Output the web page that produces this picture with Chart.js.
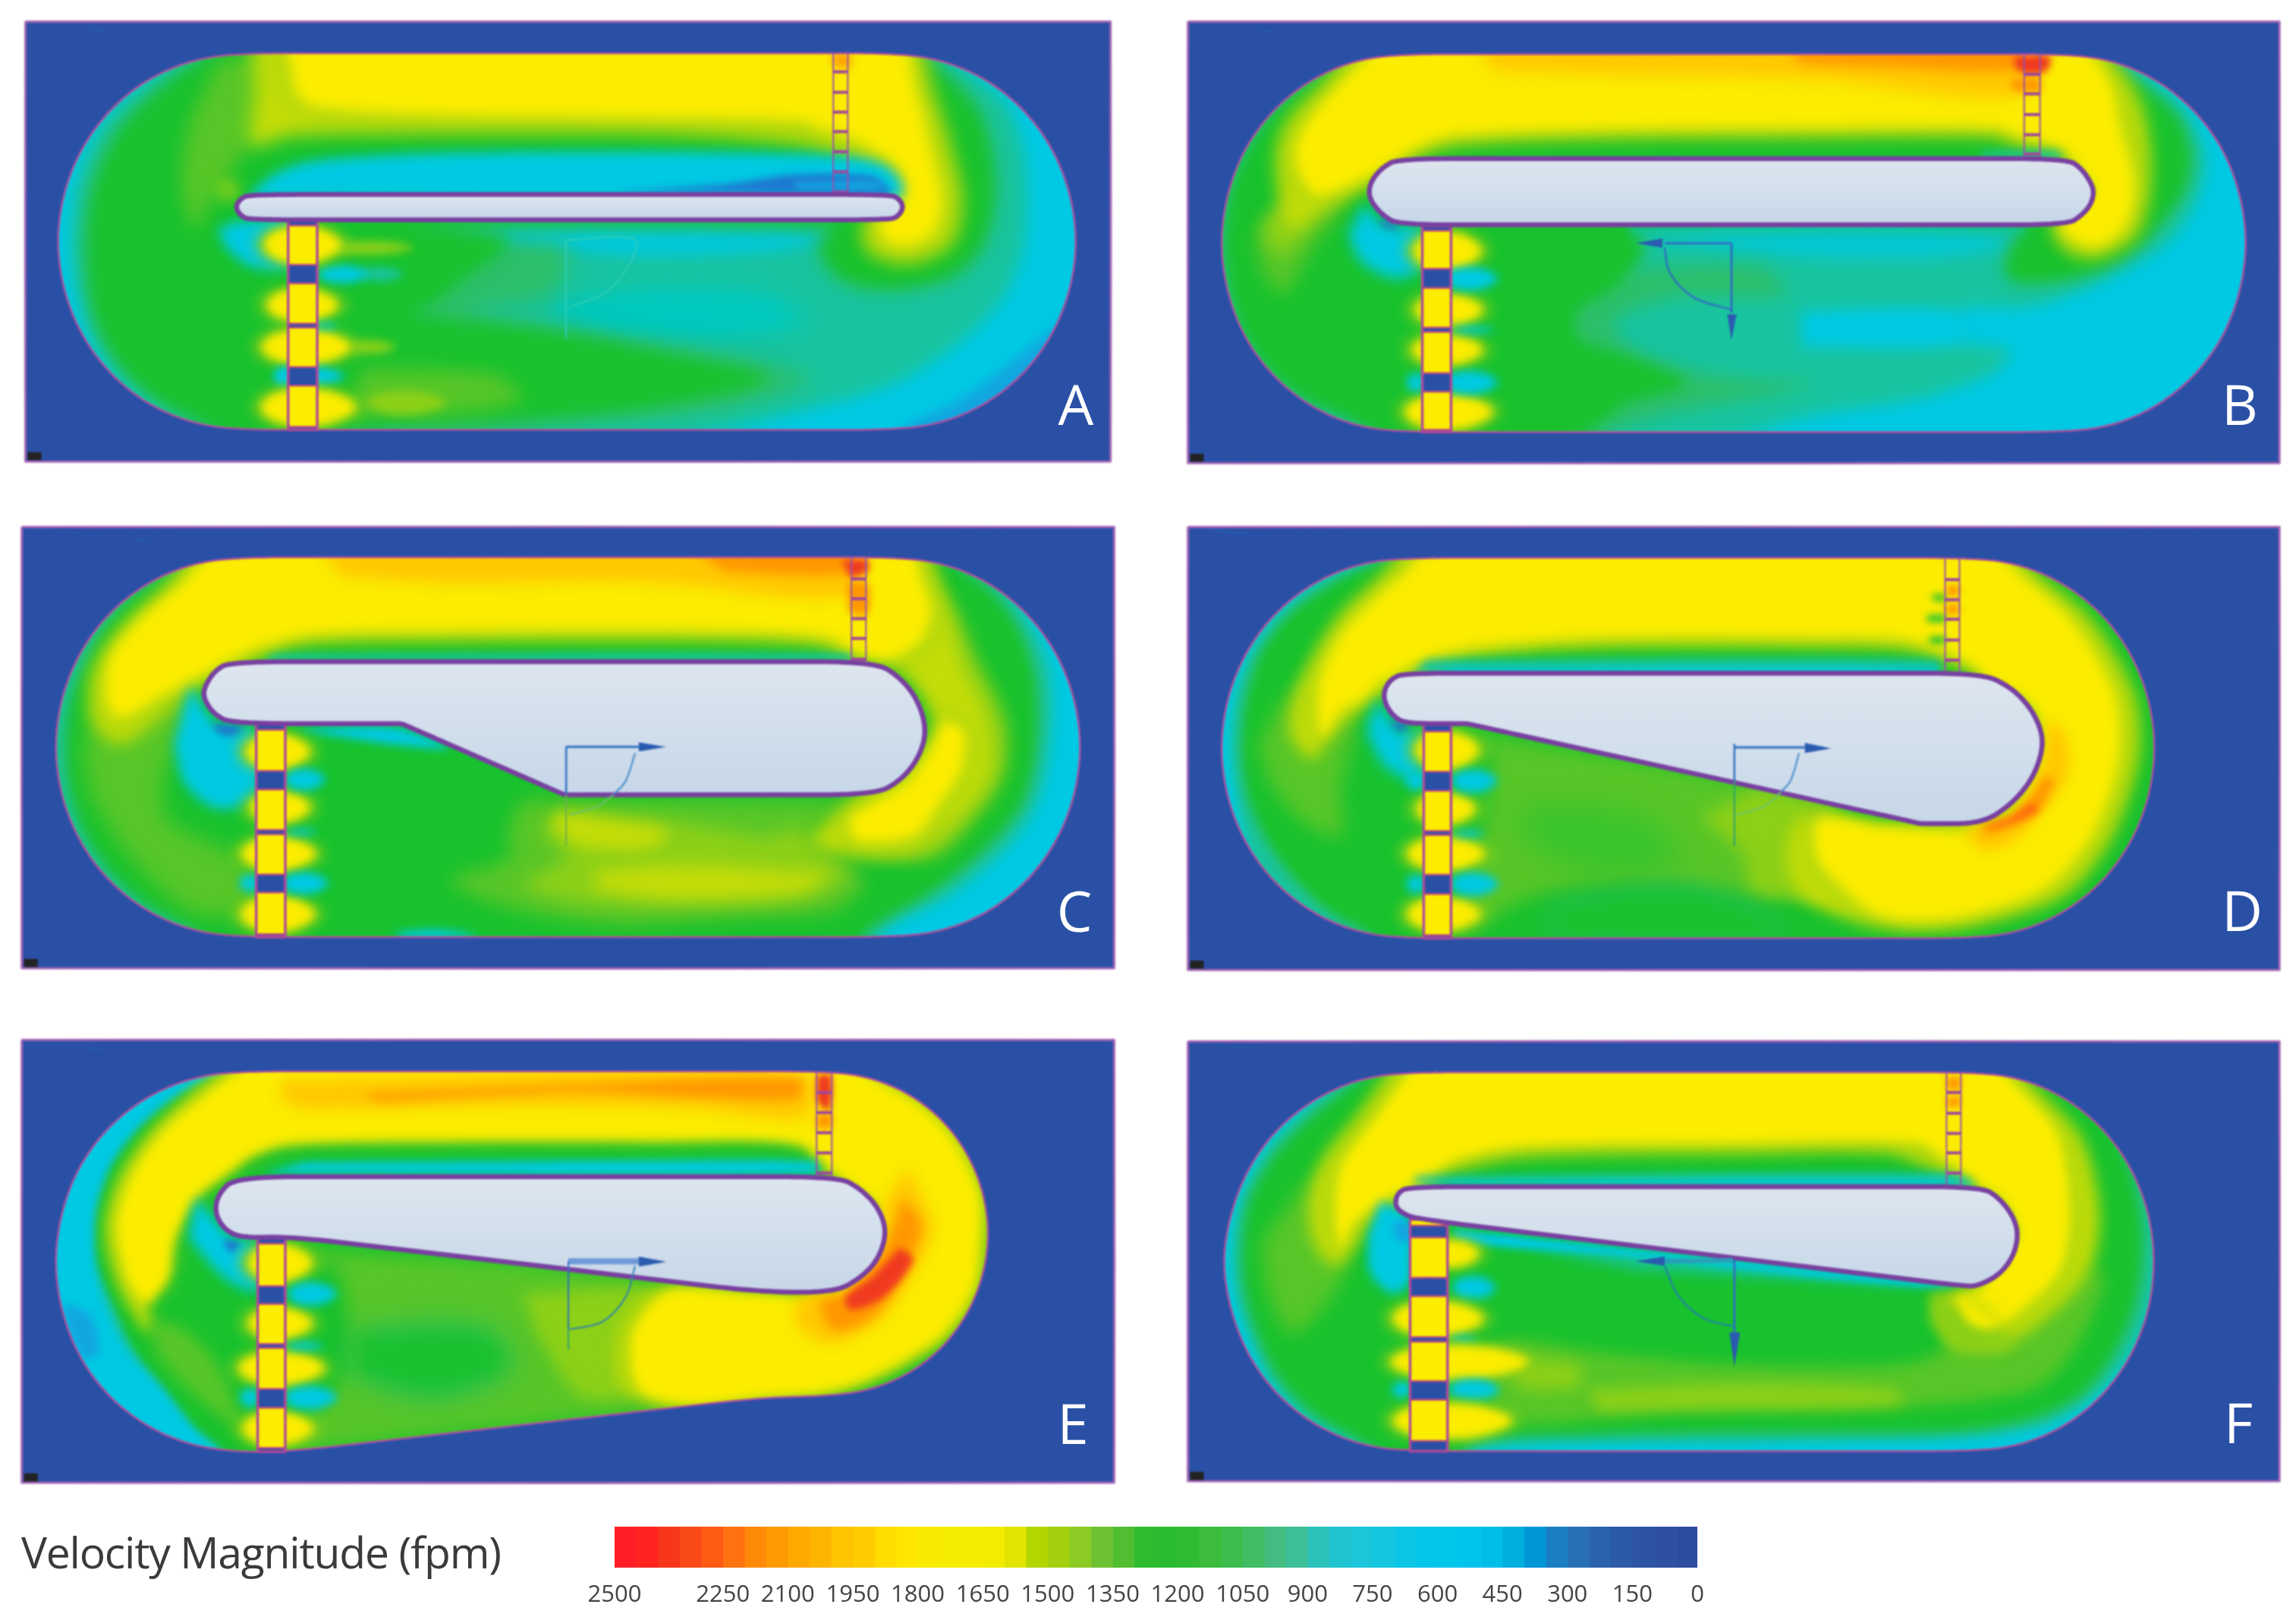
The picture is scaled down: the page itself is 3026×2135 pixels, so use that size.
<!DOCTYPE html>
<html><head><meta charset="utf-8">
<script src="https://cdn.jsdelivr.net/npm/chart.js@4"></script>
<style>
html,body{margin:0;padding:0;background:#fff;width:3026px;height:2135px;overflow:hidden}
canvas.panel{position:absolute;filter:blur(1.2px)}
canvas.bar{position:absolute;filter:blur(.7px)}
.letter{position:absolute;color:#fff;font:400 74px "Open Sans",sans-serif;line-height:74px;transform:translate(-50%,-50%)}
#title{position:absolute;left:28px;top:2006px;font:400 57px "Open Sans",sans-serif;color:#3a3a3a;letter-spacing:-1.2px;white-space:nowrap}
</style></head><body>
<div id="title">Velocity Magnitude (fpm)</div>
<script>
Chart.defaults.devicePixelRatio=1;
const COLORS={navy:'#2A50A6',cyan:'#00C9E3',sky:'#12A6E0',dark:'#1E78D0',teal:'#18C4A0',tgreen:'#2DBF6A',green:'#18C22E',mgreen:'#58C628',lime:'#8CD018',ylime:'#C4DC08',yellow:'#FBEC00',amber:'#FFC900',orange:'#FF9800',red:'#F03A20'};

/* ---------- colour scale ---------- */
const scaleTicks=[2500,2250,2100,1950,1800,1650,1500,1350,1200,1050,900,750,600,450,300,150,0];
const scaleStep=[2500,2450,2400,2350,2300,2250,2200,2150,2100,2050,2000,1950,1900,1850,1800,1750,1700,1650,1600,1550,1500,1450,1400,1350,1300,1250,1200,1150,1100,1050,1000,950,900,850,800,750,700,650,600,550,500,450,400,350,300,250,200,150,100,50,0];
const scaleColors=['#FF1E26','#FF2420','#F8361C','#FA4A18','#FF5A14','#FF7210','#FF8A08','#FF9A00','#FFA800','#FFB400','#FFC400','#FFCC00','#FFDC00','#FFE600','#F8EA00','#F5EC00','#F5EC00','#F3EC00','#E0E400','#B4D600','#A2CF0E','#8CCA24','#6EC232','#50BE30','#2DBB30','#2BBB30','#30BB34','#3BBC3C','#3CBC4C','#40BC62','#42BC80','#3CBE98','#2CC2BC','#20C4D0','#1CC6DA','#14C6E0','#0CC6E6','#04C6EA','#00C6EC','#00C4EC','#00BEE8','#00AEE0','#0096D6','#1A7EC2','#2870B6','#2A62AE','#2D5AA8','#2D54A4','#2D50A2','#2D4EA0'];

/* ---------- panel A ---------- */
const A_crop=[0,0,1500,640];
const A_rect=[35,70,1530,1490];
const A_outline=[[330,172],[1232,172],[1297,193],[1358,253],[1410,350],[1450,476],[1475,623],[1484,780],[1475,937],[1450,1084],[1410,1210],[1358,1307],[1297,1367],[1232,1388],[330,1388],[265,1367],[204,1307],[152,1210],[112,1084],[87,937],[78,780],[87,623],[112,476],[152,350],[204,253],[265,193]];
const A_body=[[345,628],[1225,628],[1238,640],[1245,668],[1238,698],[1225,710],[345,710],[332,698],[324,668],[332,640]];
const A_low=[397,437,712,1388]; const A_lowBlue=[[712,728],[855,915],[1045,1058],[1185,1245],[1378,1388]];
const A_up=[1148,1168,172,625]; const A_upTicks=[232,298,362,425,490,555,620];
const A_bands=[
['teal',10,[[320,120],[1250,120],[1330,230],[1385,330],[1410,480],[1415,650],[1410,800],[1385,950],[1330,1090],[1230,1240],[1090,1335],[910,1420],[300,1420],[225,1330],[165,1210],[125,1070],[105,900],[100,780],[107,600],[135,430],[185,300],[245,200]]],
['sky',7,[[1480,1000],[1500,1050],[1420,1260],[1300,1400],[1240,1390],[1330,1280],[1410,1140]]],
['cyan',10,[[450,740],[1130,740],[1150,770],[1060,810],[880,825],[700,790],[500,760]]],
['#00C8BE',14,[[760,980],[900,930],[1060,950],[1110,1040],[1000,1090],[850,1085],[770,1040]]],
['tgreen',14,[[620,800],[780,800],[760,950],[640,1010],[800,1090],[1000,1160],[1120,1220],[1000,1310],[800,1350],[560,1380],[500,900]]],
['green',10,[[330,120],[1230,120],[1300,240],[1345,350],[1365,500],[1368,650],[1350,800],[1310,890],[1230,930],[1160,900],[1130,800],[1150,730],[560,730],[700,780],[640,900],[590,990],[560,1010],[760,1070],[960,1160],[1060,1220],[960,1290],[800,1340],[560,1372],[330,1420],[265,1350],[205,1270],[160,1160],[130,1010],[120,800],[130,600],[165,420],[225,280],[285,180]]],
['mgreen',12,[[500,1190],[680,1210],[720,1290],[600,1340],[480,1340]]],
['mgreen',12,[[300,200],[360,200],[340,480],[300,600],[270,740],[250,600],[260,400]]],
['lime',10,[[300,570],[330,600],[325,640],[300,645]]],
['ylime',12,[[345,120],[1250,120],[1285,300],[1310,480],[1325,650],[1310,790],[1250,850],[1195,810],[1190,720],[1215,640],[1215,560],[1180,520],[1100,465],[900,430],[600,430],[400,440],[345,470],[350,300]]],
['yellow',9,[[390,120],[1235,120],[1265,300],[1285,480],[1300,650],[1285,760],[1245,800],[1215,770],[1212,710],[1240,640],[1240,560],[1210,500],[1170,450],[1130,420],[1100,395],[900,385],[600,375],[430,350],[405,300]]],
['cyan',8,[[345,625],[380,560],[430,520],[600,495],[900,490],[1130,500],[1210,525],[1240,580],[1240,640],[345,640]]],
['dark',5,[[850,618],[1000,595],[1090,565],[1200,568],[1225,610],[1225,628]]],
['sky',4,[[1090,590],[1210,585],[1215,610],[1100,610]]],
['orange',6,[[1145,176],[1170,176],[1170,215],[1150,215]]],
['cyan',8,[[325,715],[397,720],[397,860],[345,860],[312,800],[300,740]]]
];
const A_blobs=[[525,885,30,22,'teal'],[472,885,35,30,'cyan'],[510,800,60,22,'lime'],[417,790,52,60,'yellow'],[417,985,48,52,'yellow'],[510,1120,35,22,'lime'],[422,1120,60,56,'yellow'],[448,1052,18,9,'cyan'],[428,1215,46,32,'cyan'],[390,1215,12,30,'cyan'],[560,1300,55,38,'lime'],[425,1315,64,60,'yellow']];
const A_arrows=[['#2ECDB8',2,[[780,775],[875,775],[860,880],[830,950],[785,990]]],['#2ECDB8',2,[[780,775],[780,1095]]]];
const A_heads=[];

/* ---------- panel B ---------- */
const B_crop=[1540,0,1486,640];
const B_rect=[27,70,1545,1495];
const B_outline=[[322,175],[1250,175],[1315,196],[1375,257],[1427,354],[1467,480],[1491,627],[1500,785],[1491,943],[1467,1090],[1427,1216],[1375,1313],[1315,1374],[1250,1395],[322,1395],[257,1374],[197,1313],[145,1216],[105,1090],[81,943],[72,785],[81,627],[105,480],[145,354],[197,257],[257,196]];
const B_body=[[320,512],[1250,512],[1270,545],[1283,590],[1287,620],[1283,660],[1270,695],[1250,726],[320,726],[298,695],[283,655],[278,620],[283,580],[298,540]];
const B_low=[353,393,730,1395]; const B_lowBlue=[[730,745],[868,930],[1058,1072],[1205,1265],[1388,1395]];
const B_up=[1190,1212,175,507]; const B_upTicks=[240,303,370,435,497];
const B_bands=[
['teal',10,[[322,125],[1250,125],[1350,240],[1410,360],[1440,500],[1430,640],[1390,780],[1300,900],[1200,990],[1100,1000],[1100,1100],[1170,1130],[1150,1200],[1040,1290],[900,1340],[740,1430],[300,1430],[250,1360],[190,1300],[135,1210],[95,1080],[70,940],[60,785],[70,630],[95,480],[135,350],[190,250],[250,175]]],
['cyan',9,[[880,1005],[1095,1005],[1100,1110],[880,1120]]],
['cyan',12,[[590,745],[1190,745],[1170,790],[1050,825],[880,820],[700,780]]],
['tgreen',12,[[570,880],[820,860],[860,950],[700,960],[620,1040],[650,1150],[780,1220],[900,1240],[700,1330],[540,1400],[480,1100]]],
['green',9,[[322,125],[1250,125],[1330,240],[1400,370],[1420,500],[1410,620],[1350,790],[1280,880],[1190,910],[1165,880],[1180,770],[1200,735],[640,735],[660,800],[620,930],[570,1000],[570,1090],[640,1150],[720,1240],[640,1300],[550,1430],[322,1430],[250,1350],[190,1290],[140,1195],[105,1080],[85,940],[78,785],[85,630],[110,480],[150,350],[205,250],[260,190]]],
['mgreen',12,[[120,760],[170,640],[240,600],[240,680],[200,800],[160,950],[130,880]]],
['lime',11,[[130,720],[170,650],[220,630],[200,720],[160,820],[140,800]]],
['ylime',11,[[270,125],[1270,125],[1335,260],[1360,400],[1365,600],[1345,760],[1290,830],[1250,810],[1230,730],[1265,600],[1250,520],[1215,480],[1180,470],[1150,440],[900,440],[600,445],[400,465],[350,500],[290,590],[215,680],[170,740],[155,650],[150,500],[165,390],[215,270]]],
['yellow',8,[[300,125],[1255,125],[1310,260],[1325,400],[1345,600],[1330,740],[1290,800],[1260,780],[1240,730],[1270,650],[1285,610],[1265,540],[1240,480],[1210,460],[1180,440],[1150,415],[900,415],[600,420],[400,440],[345,480],[280,570],[205,635],[180,560],[175,480],[195,380],[240,260]]],
['amber',10,[[430,140],[1180,140],[1180,310],[900,255],[600,240],[450,228]]],
['orange',8,[[860,150],[1180,150],[1180,225],[1000,215],[880,205]]],
['cyan',6,[[640,735],[1190,735],[1190,745],[640,745]]],
['teal',6,[[1130,490],[1240,490],[1240,510],[1130,510]]],
['red',5,[[1175,180],[1225,180],[1222,228],[1195,242],[1178,222]]],
['orange',5,[[1170,255],[1212,255],[1212,295],[1175,295]]],
['cyan',9,[[272,655],[300,725],[353,740],[353,860],[320,900],[270,850],[250,760]]],
['dark',5,[[292,705],[320,725],[315,740],[298,730]]]
];
const B_blobs=[[388,810,46,60,'yellow'],[390,1000,46,50,'yellow'],[388,1130,48,48,'yellow'],[390,1330,60,56,'yellow'],[420,900,38,38,'cyan'],[424,1065,30,10,'cyan'],[420,1235,38,38,'cyan'],[345,1235,14,30,'cyan']];
const B_arrows=[['#2F6FC0',3,[[783,785],[690,785]]],['#2F6FC0',3,[[783,785],[783,1010]]],['#2F6FC0',2.5,[[690,800],[697,880],[730,960],[783,1000]]]];
const B_heads=[[[650,785],[687,770],[687,800]],[[777,1015],[790,1015],[783,1100]]];

/* ---------- panel C ---------- */
const C_crop=[0,670,1500,640];
const C_rect=[30,60,1535,1485];
const C_outline=[[328,158],[1238,158],[1303,179],[1364,240],[1416,338],[1456,465],[1481,612],[1490,771],[1481,930],[1456,1077],[1416,1204],[1364,1302],[1303,1363],[1238,1384],[328,1384],[263,1363],[202,1302],[149,1204],[109,1077],[84,930],[75,771],[84,612],[109,465],[149,338],[202,240],[263,179]];
const C_body=[[318,495],[1205,495],[1240,545],[1265,620],[1277,720],[1265,810],[1240,880],[1205,925],[790,925],[778,925],[770,917],[560,702],[553,695],[540,695],[320,695],[295,665],[282,620],[280,585],[295,525]];
const C_low=[353,393,695,1384]; const C_lowBlue=[[695,715],[848,908],[1038,1052],[1182,1240],[1375,1384]];
const C_up=[1173,1193,158,492]; const C_upTicks=[228,292,356,420,487];
const C_bands=[
['teal',9,[[328,110],[1238,110],[1364,215],[1425,400],[1448,560],[1445,780],[1428,950],[1385,1100],[1305,1250],[1225,1340],[1190,1420],[300,1420],[250,1363],[190,1302],[135,1204],[95,1077],[70,930],[60,771],[70,612],[95,465],[135,338],[190,240],[250,170]]],
['green',8,[[328,110],[1238,110],[1350,240],[1400,380],[1425,560],[1425,780],[1405,960],[1350,1110],[1280,1240],[1200,1350],[1170,1420],[300,1420],[265,1355],[210,1290],[160,1190],[120,1060],[100,930],[92,771],[100,612],[125,465],[160,338],[210,240],[268,170]]],
['cyan',6,[[540,1372],[600,1360],[660,1384],[560,1395]]],
['mgreen',14,[[115,770],[140,600],[230,570],[270,650],[230,830],[230,1000],[340,1150],[340,1300],[260,1300],[170,1100],[120,900]]],
['mgreen',12,[[720,940],[1180,950],[1180,1000],[1120,1050],[1190,1200],[1150,1300],[1000,1325],[850,1345],[700,1290],[620,1200],[700,1130],[700,1030]]],
['lime',12,[[780,985],[920,1010],[1000,1040],[1060,1060],[1100,1030],[1120,1090],[1170,1180],[1110,1260],[930,1285],[790,1270],[720,1210],[780,1130],[745,1050]]],
['ylime',11,[[820,1170],[950,1150],[1080,1170],[1140,1180],[1100,1240],[920,1260],[820,1230]]],
['ylime',10,[[770,980],[860,1010],[920,1040],[900,1095],[800,1090],[755,1020]]],
['lime',11,[[1260,150],[1310,300],[1345,480],[1385,680],[1385,850],[1345,1000],[1280,1130],[1120,1090],[1160,980],[1180,940],[1270,800],[1290,700],[1260,560],[1225,500]]],
['ylime',11,[[280,110],[1260,110],[1300,300],[1325,500],[1360,680],[1365,850],[1320,1000],[1250,1110],[1120,1080],[1160,980],[1180,940],[1270,800],[1290,700],[1260,560],[1225,500],[1160,470],[1130,440],[1000,425],[600,425],[420,435],[360,480],[270,580],[170,760],[130,700],[125,540],[165,390],[225,260]]],
['yellow',8,[[300,110],[1245,110],[1275,250],[1285,330],[1270,430],[1225,490],[1180,470],[1140,420],[1000,400],[600,400],[430,410],[360,450],[320,490],[280,540],[230,600],[165,680],[145,620],[150,480],[190,360],[245,250]]],
['yellow',8,[[1300,680],[1330,720],[1325,850],[1295,960],[1260,1060],[1180,1075],[1170,1000],[1200,950],[1250,880],[1280,780]]],
['amber',9,[[440,125],[1165,125],[1165,285],[900,240],[600,240],[470,220]]],
['orange',7,[[950,130],[1165,130],[1165,210],[1000,205]]],
['red',5,[[1160,165],[1195,165],[1195,205],[1170,225]]],
['orange',5,[[1165,240],[1195,240],[1195,340],[1170,340]]],
['cyan',8,[[262,570],[300,700],[353,720],[353,930],[300,970],[255,890],[240,760]]],
['dark',5,[[292,695],[335,705],[320,735],[300,725]]],
['cyan',6,[[400,712],[545,708],[620,775],[540,762],[460,735]]],
['teal',5,[[380,470],[1170,470],[1170,490],[360,490]]]
];
const C_blobs=[[383,785,43,56,'yellow'],[386,965,40,50,'yellow'],[384,1115,50,53,'yellow'],[383,1310,50,56,'yellow'],[420,875,28,35,'cyan'],[415,1045,22,9,'cyan'],[420,1210,32,35,'cyan'],[345,1210,15,28,'cyan']];
const C_arrows=[['#2F6FC0',3,[[780,770],[880,770]]],['#2F6FC0',2.5,[[780,770],[780,925]]],['#6FB04A',2,[[780,925],[780,1090]]],['#3F86C8',2,[[875,790],[862,880],[845,925]]],['#6FC070',2,[[845,925],[825,960],[785,990]]]];
const C_heads=[[[880,755],[918,770],[880,785]]];

/* ---------- panel D ---------- */
const D_crop=[1540,670,1486,640];
const D_rect=[27,60,1545,1490];
const D_outline=[[325,160],[1120,160],[1185,181],[1246,242],[1299,340],[1339,467],[1364,614],[1373,774],[1364,934],[1339,1081],[1299,1208],[1246,1306],[1185,1367],[1120,1388],[325,1388],[260,1367],[199,1306],[146,1208],[106,1081],[81,934],[72,774],[81,614],[106,467],[146,340],[199,242],[260,181]];
const D_body=[[328,532],[1130,532],[1170,575],[1198,640],[1215,720],[1215,790],[1200,880],[1170,960],[1130,1018],[1058,1018],[1045,1018],[1035,1012],[425,700],[415,695],[405,695],[330,695],[312,670],[300,625],[300,585],[310,550]];
const D_low=[355,393,695,1388]; const D_lowBlue=[[695,720],[850,912],[1042,1055],[1183,1245],[1378,1388]];
const D_up=[1080,1100,160,530]; const D_upTicks=[230,295,358,425,490];
const D_bands=[
['teal',7,[[325,110],[1120,110],[1200,150],[1280,230],[1340,340],[1380,467],[1405,614],[1415,774],[1405,934],[1380,1081],[1340,1208],[1280,1320],[1200,1400],[1120,1420],[300,1420],[250,1367],[190,1306],[132,1208],[108,1081],[95,934],[88,774],[93,614],[115,467],[155,340],[215,232],[280,170]]],
['green',7,[[325,110],[1120,110],[1200,150],[1280,230],[1340,340],[1380,467],[1405,614],[1415,774],[1405,934],[1380,1081],[1340,1208],[1280,1320],[1200,1400],[1120,1420],[300,1420],[275,1365],[225,1300],[175,1190],[138,1070],[112,930],[103,774],[110,614],[130,467],[172,340],[240,230],[310,165]]],
['teal',6,[[560,1388],[620,1350],[710,1350],[790,1395],[600,1400]]],
['mgreen',12,[[125,760],[170,600],[250,600],[260,700],[240,900],[240,1060],[180,1000],[140,880]]],
['mgreen',12,[[415,720],[800,880],[905,960],[960,1100],[950,1220],[800,1240],[620,1210],[500,1260],[450,1320],[400,1360],[440,1000],[450,800]]],
['#38C42C',18,[[495,960],[650,990],[710,1130],[620,1180],[540,1130],[490,1050]]],
['lime',11,[[820,900],[930,970],[925,1060],[965,1190],[1005,1270],[900,1260],[810,1240],[800,1120],[740,1000]]],
['green',10,[[520,1300],[700,1230],[800,1290],[850,1340],[800,1395],[560,1395]]],
['ylime',10,[[335,110],[1145,110],[1215,230],[1275,340],[1315,470],[1345,620],[1350,780],[1335,930],[1305,1090],[1245,1250],[1120,1345],[1030,1360],[950,1330],[880,1250],[860,1130],[880,1000],[1000,1030],[1100,1000],[1210,800],[1200,640],[1140,540],[1105,510],[1030,455],[900,445],[600,445],[430,470],[380,500],[300,590],[230,720],[200,810],[170,730],[175,600],[200,480],[240,340],[295,220]]],
['yellow',8,[[360,110],[1130,110],[1190,220],[1250,340],[1290,470],[1320,620],[1325,780],[1310,930],[1280,1080],[1220,1230],[1110,1320],[1030,1335],[980,1310],[940,1240],[900,1130],[905,1000],[1000,1025],[1150,1020],[1215,800],[1200,640],[1140,560],[1110,500],[1030,430],[900,420],[600,420],[430,450],[370,480],[300,560],[270,620],[240,660],[215,740],[205,650],[210,540],[240,400],[290,280],[330,200]]],
['amber',8,[[1225,680],[1245,720],[1252,850],[1215,980],[1170,1085],[1130,1100],[1110,1040],[1170,1000],[1205,900],[1218,800]]],
['orange',6,[[1218,860],[1232,880],[1205,985],[1140,1055],[1130,1030],[1170,1000],[1200,930]]],
['#FF6A10',5,[[1200,950],[1210,975],[1160,1025],[1135,1025],[1170,1000]]],
['teal',6,[[360,490],[1070,490],[1070,530],[340,530]]],
['cyan',5,[[400,515],[1070,515],[1070,535],[350,535]]],
['cyan',9,[[290,615],[320,715],[355,730],[355,850],[340,880],[300,830],[275,720]]],
['dark',5,[[310,680],[335,700],[325,720],[312,705]]],
['green',5,[[1055,345],[1080,345],[1080,365],[1055,365]]],
['green',5,[[1060,280],[1080,280],[1080,298],[1065,298]]],
['green',5,[[1058,415],[1080,415],[1080,435],[1058,435]]],
['orange',4,[[1082,250],[1098,250],[1098,280],[1082,280]]],
['orange',4,[[1082,310],[1098,310],[1098,340],[1082,340]]]
];
const D_blobs=[[388,780,43,60,'yellow'],[386,970,40,50,'yellow'],[386,1115,53,53,'yellow'],[383,1310,50,53,'yellow'],[425,880,32,38,'cyan'],[345,880,14,30,'cyan'],[418,1050,22,10,'cyan'],[425,1213,34,38,'cyan'],[345,1213,14,30,'cyan']];
const D_arrows=[['#2F6FC0',3,[[787,772],[885,772]]],['#2F6FC0',2.5,[[787,760],[787,880]]],['#2FA070',2,[[787,880],[787,1090]]],['#3F86C8',2,[[877,790],[865,880],[852,915]]],['#6FC070',2,[[852,915],[830,960],[790,990]]]];
const D_heads=[[[885,757],[922,775],[885,790]]];

/* ---------- panel E ---------- */
const E_crop=[0,1350,1500,640];
const E_rect=[30,50,1535,1480];
const E_outline=[[325,152],[1140,152],[1198,170],[1252,222],[1298,305],[1333,414],[1355,540],[1363,676],[1355,812],[1333,938],[1298,1047],[1252,1130],[1198,1182],[1140,1200],[1050,1205],[395,1380],[325,1380],[262,1359],[201,1298],[148,1200],[108,1072],[84,925],[75,766],[84,607],[108,459],[148,332],[201,234],[262,173]];
const E_body=[[325,492],[1155,492],[1185,530],[1210,590],[1222,670],[1210,760],[1185,820],[1150,865],[1050,865],[400,685],[335,690],[310,665],[296,610],[300,550]];
const E_low=[355,393,690,1380]; const E_lowBlue=[[690,708],[845,903],[1032,1045],[1177,1238],[1368,1380]];
const E_up=[1125,1146,152,490]; const E_upTicks=[220,285,350,415,480];
const E_bands=[
['sky',6,[[85,900],[125,940],[135,1060],[115,1080],[95,1000]]],
['teal',6,[[325,110],[1140,110],[1220,140],[1280,200],[1330,290],[1365,410],[1390,540],[1400,676],[1390,812],[1365,945],[1330,1060],[1280,1150],[1220,1215],[1140,1240],[1050,1245],[395,1420],[320,1420],[300,1370],[265,1300],[225,1180],[175,1050],[145,900],[130,766],[130,607],[150,459],[190,332],[250,220],[310,150]]],
['green',5,[[325,110],[1140,110],[1220,135],[1270,200],[1320,290],[1355,410],[1380,540],[1390,676],[1380,812],[1350,945],[1310,1060],[1260,1150],[1200,1215],[1140,1240],[1050,1245],[395,1420],[320,1420],[305,1370],[270,1300],[230,1180],[185,1050],[155,900],[135,766],[135,607],[155,459],[195,332],[255,220],[315,150]]],
['mgreen',10,[[205,950],[250,980],[300,1100],[330,1300],[260,1180],[215,1060]]],
['mgreen',12,[[395,720],[940,860],[880,1150],[950,1230],[800,1275],[600,1325],[450,1365],[400,1360],[480,1100],[470,800]]],
['green',14,[[490,1000],[660,990],[700,1100],[600,1190],[490,1130]]],
['lime',10,[[720,870],[900,860],[860,1000],[880,1180],[800,1200],[740,1000]]],
['ylime',9,[[330,110],[1145,110],[1215,170],[1275,240],[1320,330],[1345,440],[1360,560],[1360,720],[1350,860],[1310,1000],[1260,1080],[1200,1150],[1140,1190],[1050,1205],[940,1230],[860,1180],[850,1000],[900,860],[1040,870],[1150,870],[1215,700],[1210,590],[1180,530],[1140,470],[1100,365],[900,355],[600,355],[400,365],[335,410],[300,480],[245,580],[210,720],[205,850],[205,1000],[175,900],[155,790],[145,650],[165,490],[210,340],[270,210]]],
['yellow',7,[[350,110],[1145,110],[1200,170],[1255,240],[1300,330],[1330,440],[1350,560],[1350,720],[1340,860],[1300,1000],[1250,1080],[1190,1150],[1130,1190],[1050,1205],[950,1230],[880,1180],[870,1000],[920,860],[1040,870],[1150,870],[1215,700],[1210,590],[1180,530],[1150,480],[1100,385],[900,375],[600,375],[400,385],[350,420],[320,470],[270,560],[240,700],[232,820],[200,900],[180,850],[170,790],[160,650],[180,490],[225,340],[290,210]]],
['amber',9,[[390,180],[1110,160],[1110,300],[950,270],[700,262],[420,272],[385,240]]],
['orange',7,[[500,225],[800,195],[1100,175],[1100,238],[980,238],[800,218],[520,248]]],
['amber',9,[[1250,460],[1285,650],[1260,800],[1210,960],[1140,1030],[1095,960],[1110,870],[1170,860],[1220,710],[1215,590]]],
['orange',7,[[1245,560],[1270,650],[1245,800],[1205,940],[1150,990],[1130,900],[1170,860],[1220,710]]],
['red',5,[[1240,720],[1258,760],[1218,880],[1172,922],[1165,880],[1200,820]]],
['cyan',6,[[360,482],[1125,482],[1125,445],[900,440],[420,445]]],
['red',4,[[1125,165],[1145,165],[1142,280],[1125,250]]],
['orange',4,[[1125,290],[1145,290],[1145,335],[1125,335]]],
['cyan',8,[[270,560],[320,690],[355,710],[355,860],[310,820],[260,690]]],
['dark',4,[[308,695],[330,705],[322,735],[312,725]]]
];
const E_blobs=[[386,770,43,60,'yellow'],[386,965,43,50,'yellow'],[388,1110,58,53,'yellow'],[383,1305,48,53,'yellow'],[430,870,34,38,'cyan'],[420,1038,26,12,'cyan'],[428,1205,36,38,'cyan'],[345,1205,14,30,'cyan']];
const E_arrows=[['#6F9AD8',8,[[783,765],[880,765]]],['#2F6FC0',2,[[783,765],[783,985]]],['#2FA070',2,[[783,985],[783,1050]]],['#2F80B0',2,[[875,780],[862,880],[830,960],[785,985]]]];
const E_heads=[[[880,750],[918,767],[880,782]]];

/* ---------- panel F ---------- */
const F_crop=[1540,1350,1486,640];
const F_rect=[27,55,1545,1475];
const F_outline=[[330,155],[1125,155],[1189,176],[1249,238],[1300,335],[1339,461],[1364,609],[1372,767],[1364,925],[1339,1073],[1300,1199],[1249,1296],[1189,1357],[1125,1378],[330,1378],[265,1357],[204,1296],[151,1199],[111,1073],[86,925],[75,767],[86,609],[111,461],[151,335],[204,238],[265,176]];
const F_body=[[335,524],[1130,524],[1155,560],[1175,620],[1182,680],[1175,750],[1155,810],[1125,845],[1105,845],[345,628],[325,610],[315,585],[318,545]];
const F_low=[336,388,630,1378]; const F_lowBlue=[[650,688],[818,878],[1010,1025],[1152,1212],[1345,1378]];
const F_up=[1082,1102,155,522]; const F_upTicks=[220,287,352,415,480];
const F_bands=[
['teal',8,[[330,110],[1125,110],[1205,140],[1270,210],[1320,335],[1355,461],[1372,609],[1378,767],[1365,925],[1335,1073],[1290,1190],[1220,1290],[1110,1320],[900,1335],[600,1340],[430,1360],[388,1420],[310,1420],[250,1320],[190,1260],[142,1140],[115,1000],[95,850],[92,700],[105,560],[135,420],[185,290],[250,180]]],
['green',8,[[330,110],[1125,110],[1205,150],[1265,238],[1310,335],[1335,461],[1350,609],[1352,767],[1340,925],[1310,1073],[1270,1190],[1200,1270],[1100,1310],[900,1315],[600,1320],[430,1340],[388,1410],[325,1420],[265,1340],[205,1260],[155,1140],[125,1000],[107,850],[105,700],[115,560],[150,420],[200,300],[265,180]]],
['mgreen',10,[[1060,860],[1100,990],[1040,1090],[800,1100],[600,1060],[470,1020],[440,1100],[470,1280],[700,1250],[1000,1240],[1200,1180],[1260,1050],[1300,800],[1200,860]]],
['lime',9,[[580,1180],[800,1160],[1010,1180],[1020,1225],[800,1240],[600,1250]]],
['lime',10,[[470,1080],[570,1100],[570,1170],[490,1180]]],
['mgreen',12,[[130,700],[200,500],[250,500],[250,760],[220,900],[170,1000],[135,850]]],
['ylime',10,[[320,110],[1150,110],[1220,240],[1265,350],[1285,470],[1295,640],[1280,800],[1220,950],[1160,1030],[1090,1010],[1070,890],[1120,850],[1180,680],[1160,570],[1125,525],[1060,465],[1000,415],[800,415],[500,425],[400,470],[355,520],[290,620],[235,780],[205,720],[195,600],[210,450],[260,300]]],
['yellow',7,[[345,110],[1130,110],[1190,220],[1235,340],[1250,470],[1255,640],[1240,800],[1190,920],[1150,980],[1110,960],[1095,890],[1130,850],[1180,680],[1160,570],[1125,515],[1080,440],[1040,385],[800,385],[500,395],[400,440],[350,510],[300,570],[260,640],[240,720],[230,600],[240,450],[290,290]]],
['lime',8,[[1060,860],[1130,960],[1180,1030],[1150,1060],[1090,1050],[1060,960]]],
['yellow',7,[[1095,870],[1150,960],[1140,985],[1110,960]]],
['teal',6,[[345,490],[1080,480],[1120,510],[340,510]]],
['cyan',5,[[400,505],[1080,500],[1120,520],[345,520]]],
['cyan',5,[[395,660],[1100,840],[1050,850],[800,800],[600,750],[400,705]]],
['teal',8,[[500,730],[700,770],[1050,860],[900,830],[650,790]]],
['orange',4,[[1082,170],[1100,170],[1100,210],[1082,210]]],
['orange',4,[[1082,235],[1100,235],[1100,265],[1082,265]]],
['cyan',7,[[295,570],[336,630],[336,830],[312,870],[280,800],[278,680]]],
['sky',5,[[310,640],[336,640],[336,700],[318,700]]]
];
const F_blobs=[[395,740,36,43,'yellow'],[425,850,30,38,'cyan'],[375,950,62,56,'yellow'],[410,1018,18,12,'cyan'],[405,1090,95,54,'yellow'],[425,1180,35,35,'cyan'],[325,1180,14,26,'cyan'],[395,1280,82,56,'yellow']];
const F_arrows=[['#2A9FB8',6,[[785,762],[690,765]]],['#2F6FC0',3,[[787,760],[787,995]]],['#1E86A0',2.5,[[690,780],[710,880],[745,950],[785,975]]]];
const F_heads=[[[650,765],[690,750],[690,780]],[[780,995],[795,995],[787,1105]]];

const PANELS=[
 {id:'A',crop:A_crop,rect:A_rect,outline:A_outline,body:A_body,low:A_low,lowBlue:A_lowBlue,up:A_up,ticks:A_upTicks,bands:A_bands,blobs:A_blobs,arrows:A_arrows,heads:A_heads,at:[1418,532]},
 {id:'B',crop:B_crop,rect:B_rect,outline:B_outline,body:B_body,low:B_low,lowBlue:B_lowBlue,up:B_up,ticks:B_upTicks,bands:B_bands,blobs:B_blobs,arrows:B_arrows,heads:B_heads,at:[2952,532]},
 {id:'C',crop:C_crop,rect:C_rect,outline:C_outline,body:C_body,low:C_low,lowBlue:C_lowBlue,up:C_up,ticks:C_upTicks,bands:C_bands,blobs:C_blobs,arrows:C_arrows,heads:C_heads,at:[1416,1200]},
 {id:'D',crop:D_crop,rect:D_rect,outline:D_outline,body:D_body,low:D_low,lowBlue:D_lowBlue,up:D_up,ticks:D_upTicks,bands:D_bands,blobs:D_blobs,arrows:D_arrows,heads:D_heads,at:[2955,1199]},
 {id:'E',crop:E_crop,rect:E_rect,outline:E_outline,body:E_body,low:E_low,lowBlue:E_lowBlue,up:E_up,ticks:E_upTicks,bands:E_bands,blobs:E_blobs,arrows:E_arrows,heads:E_heads,at:[1414,1875]},
 {id:'F',crop:F_crop,rect:F_rect,outline:F_outline,body:F_body,low:F_low,lowBlue:F_lowBlue,up:F_up,ticks:F_upTicks,bands:F_bands,blobs:F_blobs,arrows:F_arrows,heads:F_heads,at:[2950,1874]}
];

/* paints each closed region from the line element the library has laid out */
const regionPainter={id:'regionPainter',beforeDatasetDraw(chart,args){
  const d=chart.data.datasets[args.index],ctx=chart.ctx,line=args.meta.dataset;
  ctx.save();
  if(d.within){
    const X=chart.scales.x,Y=chart.scales.y,a=X.getPixelForValue(d.within[0]),b=Y.getPixelForValue(d.within[1]),c=X.getPixelForValue(d.within[2]),e=Y.getPixelForValue(d.within[3]);
    ctx.beginPath();ctx.rect(a,b,c-a,e-b);ctx.clip();
  }
  ctx.beginPath();line.path(ctx);
  if(d.closed)ctx.closePath();
  if(d.paint){
    if(d.soft)ctx.filter='blur('+d.soft+'px)';
    if(d.shaded){const ys=args.meta.data.map(p=>p.y),g=ctx.createLinearGradient(0,Math.min(...ys),0,Math.max(...ys));g.addColorStop(0,d.shaded[0]);g.addColorStop(1,d.shaded[1]);ctx.fillStyle=g;}
    else ctx.fillStyle=d.paint;
    ctx.fill(d.evenodd?'evenodd':'nonzero');
    ctx.filter='none';
  }
  if(d.ink){ctx.strokeStyle=d.ink;ctx.lineWidth=d.inkWidth;ctx.lineJoin='round';ctx.stroke();}
  ctx.restore();
  return false;
}};
function col(k){return COLORS[k]||k;}
function box(x0,x1,y0,y1){return [[x0,y0],[x1,y0],[x1,y1],[x0,y1]];}
function lobe(cx,cy,rx,ry){return [[cx,cy-ry],[cx+rx*.6,cy-ry*.72],[cx+rx,cy],[cx+rx*.6,cy+ry*.72],[cx,cy+ry],[cx-rx*.72,cy+ry*.72],[cx-rx,cy],[cx-rx*.72,cy-ry*.72],[cx,cy-ry]];}
/* rounds a closed wall outline by cutting its corners */
function soften(poly,cap,n){let P=poly;for(let k=0;k<n;k++){const Q=[];P.forEach((a,j)=>{const b=P[(j+1)%P.length],L=Math.hypot(b[0]-a[0],b[1]-a[1])||1,c=Math.min(.25,cap/L);Q.push([a[0]+(b[0]-a[0])*c,a[1]+(b[1]-a[1])*c],[b[0]-(b[0]-a[0])*c,b[1]-(b[1]-a[1])*c]);});P=Q;cap/=2;}return P;}
function layers(p){
  const L=[];const add=(pts,o)=>L.push(Object.assign({data:pts,showLine:true,pointRadius:0,borderWidth:0,tension:0.001,fill:false},o));
  const [rx0,ry0,rx1,ry1]=p.rect;
  add(box(rx0,rx1,ry0,ry1),{paint:COLORS.cyan,closed:true});
  p.bands.forEach(b=>{
    if(b[0]==='yellow'&&b[1]>=7)add(b[2],{paint:COLORS.lime,soft:b[1]*2,closed:true,tension:0.3,within:p.rect});
    if(b[0]==='green'&&b[1]>=7)add(b[2],{paint:COLORS.tgreen,soft:b[1]*1.8,closed:true,tension:0.3,within:p.rect});
    add(b[2],{paint:col(b[0]),soft:b[1],closed:true,tension:0.3,within:p.rect});
  });
  p.blobs.forEach(b=>{
    if(b[4]==='yellow')add(lobe(b[0],b[1],b[2]+12,b[3]+8),{paint:COLORS.lime,soft:9,closed:true,tension:0.4,within:p.rect});
    add(lobe(b[0],b[1],b[2],b[3]),{paint:col(b[4]),soft:6,closed:true,tension:0.4,within:p.rect});
  });
  const wall=soften(p.outline,38,3);const ring=wall.concat([wall[0]]);
  add([[rx0,ry0],[rx1,ry0],[rx1,ry1],[rx0,ry1],[rx0,ry0]].concat(ring,[[rx0,ry0]]),{paint:COLORS.navy,evenodd:true,closed:true});
  add(box(rx0,rx1,ry0,ry1).concat([[rx0,ry0]]),{ink:'#A564B4',inkWidth:3});
  add(box(rx0+3,rx0+22,ry1-30,ry1-4),{paint:'#222',closed:true});
  add(ring,{ink:'#B0509E',inkWidth:2.5});
  const [lx0,lx1,ly0,ly1]=p.low;
  add(box(lx0,lx1,ly0,ly1),{paint:COLORS.yellow,closed:true});
  p.lowBlue.forEach(c=>{add(box(lx0,lx1,c[0],c[1]),{paint:COLORS.navy,closed:true,ink:'#C04A80',inkWidth:2.5});});
  add(box(lx0,lx1,ly0,ly1).concat([[lx0,ly0]]),{ink:'#B0489A',inkWidth:3.5});
  const [ux0,ux1,uy0,uy1]=p.up;
  add([[ux0,uy0],[ux0,uy1]],{ink:'#9A50B0',inkWidth:2});
  add([[ux1,uy0],[ux1,uy1]],{ink:'#9A50B0',inkWidth:2});
  p.ticks.forEach(t=>add([[ux0,t],[ux1,t]],{ink:'#A0479C',inkWidth:4}));
  add(soften(p.body,40,3),{paint:'#D8E2EC',shaded:['#DEE6EF','#C6D7E9'],closed:true,ink:'#7840A0',inkWidth:6.5});
  p.arrows.forEach(a=>add(a[2],{ink:a[0],inkWidth:a[1],tension:a[2].length>2?0.35:0.001}));
  p.heads.forEach(h=>add(h,{paint:'#2A5BB0',closed:true}));
  return L.reverse();
}
PANELS.forEach(p=>{
  const [x,y,w,h]=p.crop;
  const c=document.createElement('canvas');c.className='panel';c.width=w;c.height=h;
  c.style.cssText='left:'+x+'px;top:'+y+'px;width:'+w+'px;height:'+h+'px';
  document.body.appendChild(c);
  new Chart(c,{type:'scatter',data:{datasets:layers(p)},plugins:[regionPainter],options:{responsive:false,animation:false,events:[],layout:{padding:0},
    plugins:{legend:{display:false},tooltip:{enabled:false},title:{display:false}},
    scales:{x:{type:'linear',min:0,max:1568,display:false},y:{type:'linear',min:0,max:1568,reverse:true,display:false}}}});
  const t=document.createElement('div');t.className='letter';t.textContent=p.id;t.style.left=p.at[0]+'px';t.style.top=p.at[1]+'px';document.body.appendChild(t);
});

/* colour scale: one floating bar per step on a real value axis */
const bc=document.createElement('canvas');bc.className='bar';bc.width=1600;bc.height=108;
bc.style.cssText='left:708px;top:2012px;width:1600px;height:108px';document.body.appendChild(bc);
new Chart(bc,{type:'bar',data:{labels:['fpm'],datasets:scaleColors.map((c,i)=>({data:[[scaleStep[i+1],scaleStep[i]]],backgroundColor:c,borderWidth:0,barPercentage:1,categoryPercentage:1,stack:'s'+i,grouped:false}))},
 options:{indexAxis:'y',responsive:false,animation:false,events:[],layout:{padding:{left:102,right:71,top:0,bottom:0}},
  plugins:{legend:{display:false},tooltip:{enabled:false}},
  scales:{y:{display:false,stacked:false},x:{type:'linear',min:0,max:2500,reverse:true,stacked:false,grid:{display:false},border:{display:false},
   afterBuildTicks(ax){ax.ticks=scaleTicks.map(v=>({value:v}));},
   ticks:{autoSkip:false,maxRotation:0,padding:10,color:'#444',font:{family:'"Open Sans",sans-serif',size:31},callback:v=>String(v)}}}}});
</script>
</body></html>
